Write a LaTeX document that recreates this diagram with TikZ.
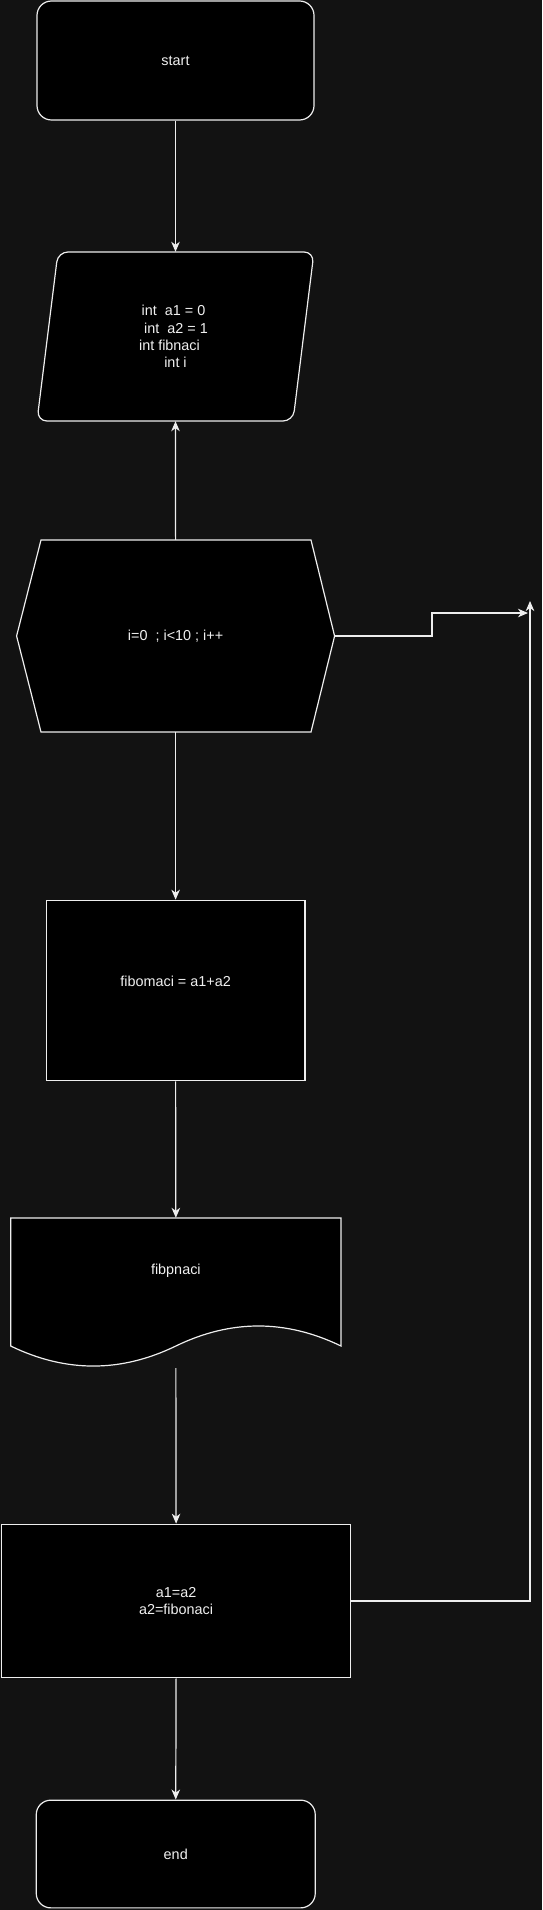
\documentclass[tikz,border=0pt]{standalone}
\usepackage{fontspec}
\setmainfont{Liberation Sans}
\usetikzlibrary{arrows.meta}
\definecolor{bg}{HTML}{121212}
\definecolor{ln}{HTML}{EEEEEE}
\definecolor{tx}{HTML}{F0F0F0}
\begin{document}
\begin{tikzpicture}[x=1pt,y=-1pt,
  every node/.style={text=tx, font=\fontsize{14.4}{17.3}\selectfont},
  outline/.style={draw=ln, line width=1.2pt, fill=black},
  boxnode/.style={outline, rectangle, inner sep=0pt},
  framenode/.style={rectangle, draw=none, inner sep=0pt},
  conn/.style={draw=ln, line width=1.2pt, -{Stealth[length=10pt,width=8.5pt,inset=3pt]}}]
\fill[bg] (0,0) rectangle (542,1910);
\useasboundingbox (0,0) rectangle (542,1910);

% start
\node[boxnode, rounded corners=14.5pt, minimum width=277pt, minimum height=119pt] (start) at (175.5,60.5) {start};

% parallelogram (declarations)
\draw[outline, rounded corners=10pt] (58,252) -- (314,252) -- (293,421) -- (37,421) -- cycle;
\node[framenode, minimum width=277pt, minimum height=169pt] (decl) at (175.5,336.5) {};
\node[align=center, inner sep=0pt] (decltext) at (175.5,336.5)
  {int\ \ a1 = 0\rule{4pt}{0pt}\\ \rule{1pt}{0pt}int\ \ a2 = 1\\ int fibnaci\rule{12pt}{0pt}\\ int i};

% loop hexagon
\draw[outline] (41,540) -- (311,540) -- (334.6,636) -- (311,732) -- (41,732) -- (16.6,636) -- cycle;
\node[framenode, minimum width=318pt, minimum height=192pt] (loop) at (175.6,636) {i=0\ \ ; i<10 ; i++};

% process
\node[boxnode, minimum width=258.6pt, minimum height=180.4pt] (calc) at (175.6,990.5) {};
\node[inner sep=0pt] (calctext) at (175.6,981) {fibomaci = a1+a2};

% document (output)
\draw[outline] (341,1218) -- (341,1346)
  .. controls (285.9,1319.3) and (230.9,1319.3) .. (175.85,1346)
  .. controls (120.8,1372.7) and (65.8,1372.7) .. (10.7,1346)
  -- (10.7,1218) -- cycle;
\node[framenode, minimum width=330.3pt, minimum height=150pt] (out) at (175.85,1293) {};
\node[inner sep=0pt] (outtext) at (175.85,1271) {fibpnaci};

% update
\node[boxnode, minimum width=349.4pt, minimum height=153.4pt, align=center] (upd) at (176.1,1601) {a1=a2\\a2=fibonaci};

% end
\node[boxnode, rounded corners=14.5pt, minimum width=279pt, minimum height=107.7pt] (stop) at (175.75,1854) {end};

% free ends of the loop connectors
\coordinate (loopin1) at (528,613);
\coordinate (loopin2) at (530,601);

% connectors
\draw[conn] (start.south) -- (decl.north);
\draw[conn] (loop.north) -- (decl.south);
\draw[conn] (loop.south) -- (calc.north);
\draw[conn] (calc.south) -- (out.north);
\draw[conn] (out.south) -- (upd.north);
\draw[conn] (upd.south) -- (stop.north);
\draw[conn] (loop.east) -- (432,636) -- (432,613) -- (loopin1);
\draw[conn] (upd.east) -- (530,1601) -- (loopin2);
\end{tikzpicture}
\end{document}
